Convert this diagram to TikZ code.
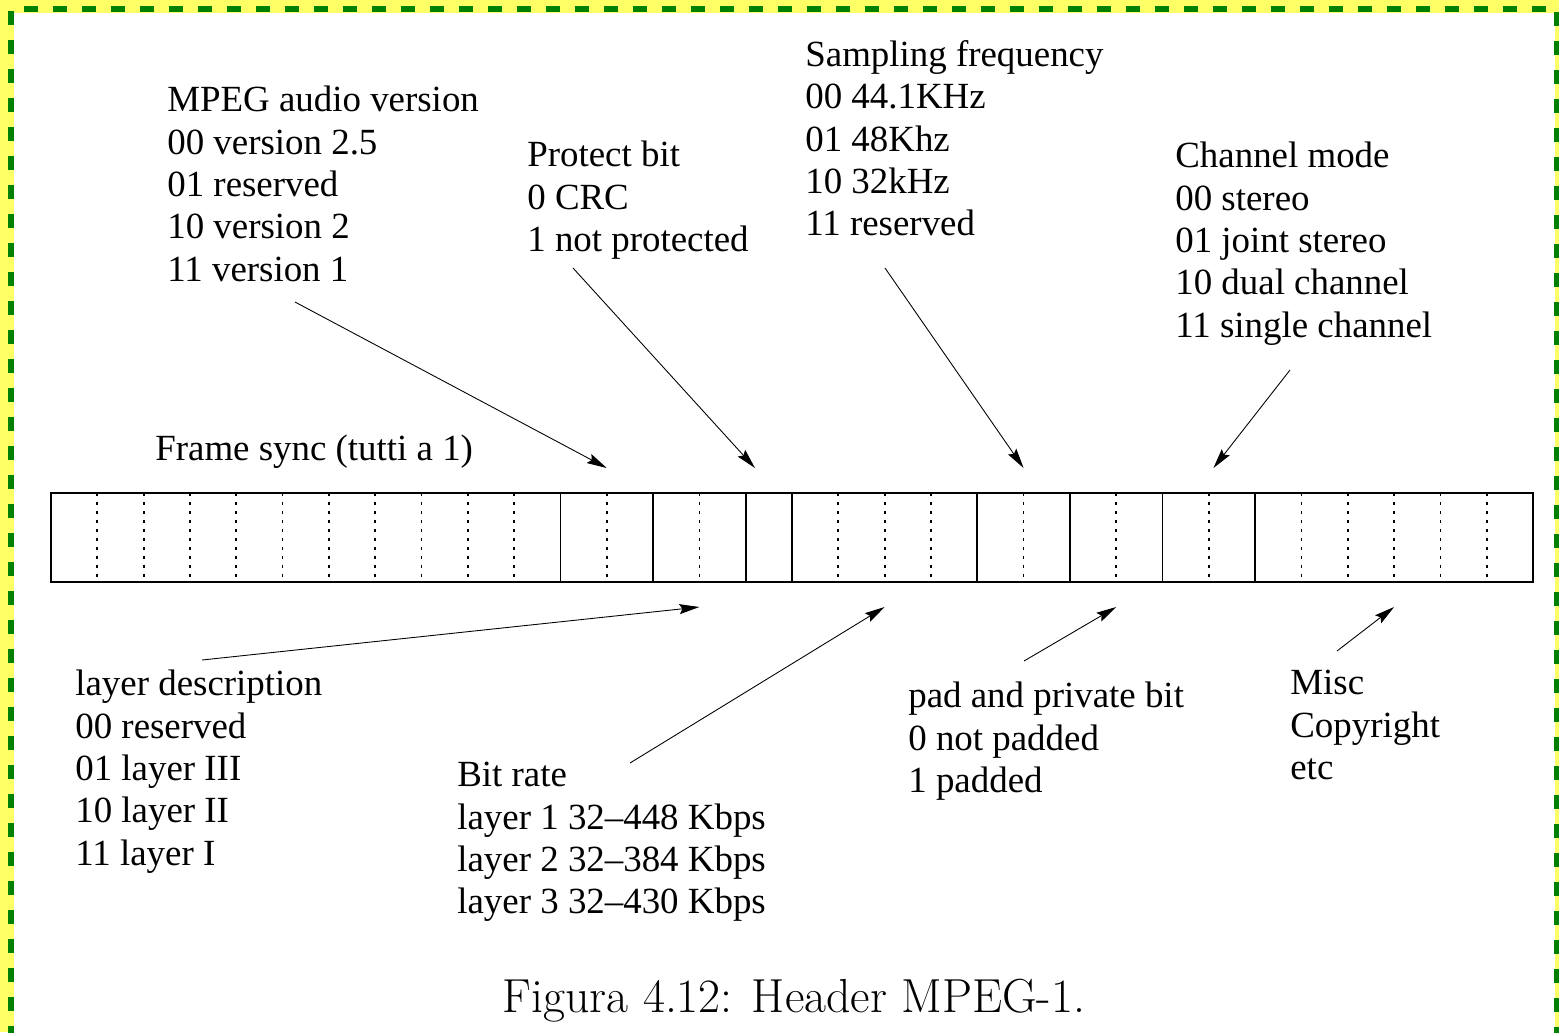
\documentclass[tikz,border=0pt]{standalone}
\usepackage{fontspec}
\newfontfamily\timesfont[Ligatures=TeX]{Liberation Serif}
\usetikzlibrary{arrows.meta, calc}
\definecolor{frameyellow}{HTML}{FFFF66}
\definecolor{framegreen}{HTML}{008000}
\def\bw{46.3125}

\begin{document}
\begin{tikzpicture}[
    x=0.02cm, y=-0.02cm,
    every node/.style={inner sep=0pt},
    lbl/.style={anchor=north west, align=left, font=\timesfont\fontsize{21}{24.1}\selectfont},
    ptr/.style={-{Stealth[length=0.4cm, width=0.2cm, inset=0.06cm]}, line width=0.5pt},
    bitsep/.style={line width=1pt, dash pattern=on 1.7pt off 3.4pt},
    fieldsep/.style={line width=1pt}
]
\useasboundingbox (0,0) rectangle (1559,1032);
% Frame
\fill[frameyellow] (0,0) rectangle (1559,1032);
\fill[white] (14,13) rectangle (1555,1040);
\draw[framegreen, line width=0.12cm, dash pattern=on 0.28cm off 0.3cm]
    (11,1040) -- (11,9) -- (1557,9) -- (1557,1040);

% Header bits
\foreach \i in {1,...,31}
    \draw[bitsep] (51+\i*\bw,493) -- (51+\i*\bw,582);
\foreach \i in {11,13,15,16,20,22,24,26}
    \draw[fieldsep] (51+\i*\bw,493) -- (51+\i*\bw,582);
\draw[line width=1.1pt] (51,493) rectangle (1533,582);

% Arrow heads above and below the fields
\coordinate (h-ver)   at (51+12*\bw,468);
\coordinate (h-prot)  at (51+15.2*\bw,468);
\coordinate (h-freq)  at (51+21*\bw,468);
\coordinate (h-mode)  at (51+25.1*\bw,468);
\coordinate (h-layer) at (51+14*\bw,607);
\coordinate (h-rate)  at (51+18*\bw,607);
\coordinate (h-pad)   at (51+23*\bw,607);
\coordinate (h-misc)  at (51+29*\bw,607);

% Labels above
\node[lbl] (ver) at (167,86) {MPEG audio version\\00 version 2.5\\01 reserved\\10 version 2\\11 version 1};
\node[lbl] (prot) at (527,141) {Protect bit\\0 CRC\\1 not protected};
\node[lbl] (freq) at (805,40) {Sampling frequency\\00 44.1KHz\\01 48Khz\\10 32kHz\\11 reserved};
\node[lbl] (mode) at (1175,142) {Channel mode\\00 stereo\\01 joint stereo\\10 dual channel\\11 single channel};
\node[lbl] (sync) at (155,435) {Frame sync (tutti a 1)};
% Labels below
\node[lbl] (layer) at (75,670) {layer description\\00 reserved\\01 layer III\\10 layer II\\11 layer I};
\node[lbl] (rate) at (457,762) {Bit rate\\layer 1 32--448 Kbps\\layer 2 32--384 Kbps\\layer 3 32--430 Kbps};
\node[lbl] (pad) at (908,682) {pad and private bit\\0 not padded\\1 padded};
\node[lbl] (misc) at (1290,670) {Misc\\Copyright\\etc};

% Arrow tails
\coordinate (t-ver)   at (295,302);
\coordinate (t-prot)  at (573,268);
\coordinate (t-freq)  at (885,268);
\coordinate (t-mode)  at (1290,370);
\coordinate (t-layer) at (202,660);
\coordinate (t-rate)  at (630,763);
\coordinate (t-pad)   at (1024,661);
\coordinate (t-misc)  at (1337,651);
\foreach \f in {ver,prot,freq,mode,layer,rate,pad,misc}
    \draw[ptr] (t-\f) -- (h-\f);

% Caption
\node[anchor=base, font=\fontsize{27.2}{32}\selectfont] (cap) at (794,1012) {Figura 4.12: Header MPEG-1.};
\end{tikzpicture}
\end{document}
